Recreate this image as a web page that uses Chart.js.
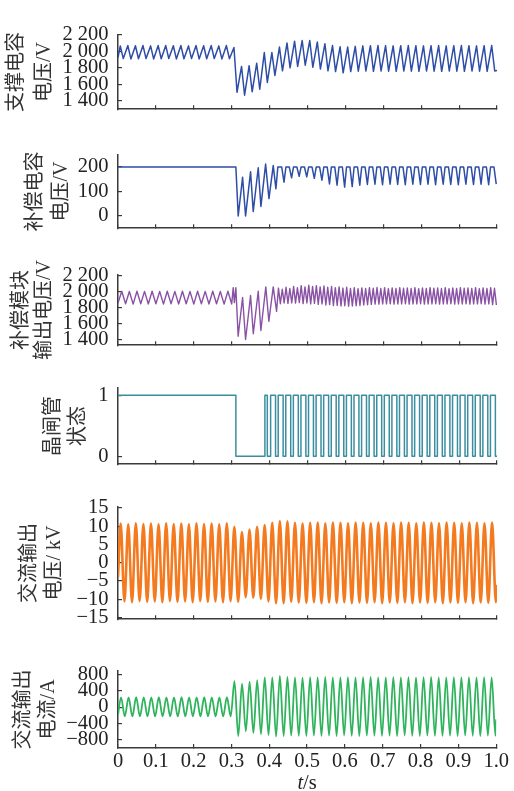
<!DOCTYPE html>
<html><head><meta charset="utf-8">
<script src="https://cdn.jsdelivr.net/npm/chart.js@4/dist/chart.umd.min.js"></script>
<style>
html,body{margin:0;padding:0;background:#fff;}
body{width:514px;height:791px;position:relative;overflow:hidden;}
canvas{position:absolute;left:0;}
</style></head>
<body>
<script>
// ---------- data ----------
const cycleT = [0,0.02,0.04,0.06,0.08,0.10,0.12,0.14,0.16,0.18,0.20,0.22,0.24,0.26,0.28,0.30,0.32,0.34,0.36,0.38,0.40,0.42,0.44,0.46,0.48,0.50,0.52,0.54,0.56,0.58,0.60,0.62,0.64,0.66,0.68,0.70,0.72,0.74,0.76,0.78,0.80,0.82,0.84,0.86,0.88,0.90,0.92,0.94,0.96,0.98];
const xTicks = [0,0.1,0.2,0.3,0.4,0.5,0.6,0.7,0.8,0.9,1.0];

// panel 1: support capacitor voltage (V)
const supTicks = [1400,1600,1800,2000,2200];
const supStart = 1925, supEnd = 1770;
const supPeaks = [2065,2070,2068,2070,2066,2070,2070,2068,2070,2066,2070,2068,2070,2066,2070,
  2046,1817,1826,1856,1985,1985,2052,2101,2122,2131,2131,2113,2092,2070,2055,
  2052,2060,2066,2068,2070,2068,2066,2068,2070,2068,2066,2068,2070,2066,2068,2070,2068,2066,2068,2070];
const supTroughs = [1912,1908,1910,1912,1908,1910,1912,1908,1910,1912,1908,1910,1912,1908,1910,
  1505,1470,1511,1541,1624,1709,1764,1801,1817,1832,1807,1786,1764,1755,1740,1755,
  1760,1762,1758,1762,1760,1758,1762,1760,1758,1762,1760,1758,1762,1760,1758,1762,1760,1758,1762];

// panel 2: compensation capacitor voltage (V)
const compTicks = [0,100,200];
const compEarlyT = [0,0.311,0.3172,0.3287,0.3366,0.3498,0.3568,0.3700,0.3771,0.3895,0.3983,0.4096,0.4167];
const compEarlyV = [200,200,0,158,0,181,18,197,39,212,71,206,111];
const compTop = 200;
const compTroughs = [138,156,162,160,154,146,131,126,118,120,126,129,130,128,130,129,128,130,129,130,128,130,129,128,130,129,130,128,130];

// panel 3: compensation module output voltage (V)
const modTicks = [1400,1600,1800,2000,2200];
const modStart = 1860;
const modPrePeaks = [2005,2003,2006,2004,2005,2003,2006,2004,2005,2003,2006,2004,2005,2003,2006];
const modPreTroughs = [1850,1846,1850,1848,1850,1846,1850,1848,1850,1846,1850,1848,1850,1846,1848];
const modEarlyT = [0.304,0.307,0.311,0.317,0.3287,0.3366,0.3498,0.357,0.370,0.377,0.390,0.398,0.4096,0.4184];
const modEarlyV = [2050,1865,2050,1447,1927,1406,1952,1478,2005,1518,2060,1632,2060,1756];
const modHiA = [2045,2055,2065,2075,2080,2075,2070,2065,2060,2055,2050,2048,2050,2052,2050,2048,2050,2046,2050,2048,2050,2046,2050,2048,2050,2046,2050,2048,2050];
const modLoA = [1850,1855,1858,1852,1848,1842,1835,1828,1822,1820,1825,1835,1842,1845,1848,1846,1848,1845,1848,1846,1848,1845,1848,1846,1848,1845,1848,1846,1840];
const modHiB = [2030,2040,2050,2060,2065,2060,2055,2050,2045,2040,2038,2040,2042,2040,2038,2040,2042,2040,2038,2040,2042,2040,2038,2040,2042,2040,2038,2040,2042];
const modLoB = [1860,1862,1865,1860,1855,1848,1840,1830,1825,1822,1828,1838,1845,1848,1850,1848,1850,1848,1850,1848,1850,1848,1850,1848,1850,1848,1850,1848,1835];

// panel 4: thyristor state
const thyTicks = [0,1];
const thyEarlyT = [0,0.311,0.3876,0.394];
const thyEarlyV = [1,0,1,0];
const thyOn = 1, thyOff = 0;

// panel 5: AC output voltage (kV)
const vTicks = [-15,-10,-5,0,5,10,15];
const vStart = -4, vEnd = -6;
const vPeaks = [10.7,10.5,10.8,10.6,10.7,10.5,10.8,10.6,10.7,10.5,10.8,10.6,10.7,10.5,10.8,
  9.8,8.4,9.1,9.8,10.3,10.9,11.4,11.3,10.9,10.7,
  10.9,11.0,10.8,11.0,10.9,10.8,11.0,10.9,10.8,11.0,10.9,10.8,11.0,10.9,10.8,11.0,10.9,10.8,11.0,10.9,10.8,11.0,10.9,10.8,11.0];
const vTroughs = [-10.6,-10.8,-10.5,-10.7,-10.6,-10.8,-10.5,-10.7,-10.6,-10.8,-10.5,-10.7,-10.6,-10.8,-10.5,
  -10.7,-9.4,-9.6,-9.9,-10.6,-11.1,-11.1,-10.7,-10.9,-11.0,
  -10.8,-11.1,-10.9,-11.0,-10.8,-11.1,-10.9,-11.0,-10.8,-11.1,-10.9,-11.0,-10.8,-11.1,-10.9,-11.0,-10.8,-11.1,-10.9,-11.0,-10.8,-11.1,-10.9,-11.0,-10.8];

// panel 6: AC output current (A)
const iTicks = [-800,-400,0,400,800];
const iStart = -190, iEnd = -300;
const iPeaks = [240,238,242,240,238,242,240,238,242,240,238,242,240,238,242,
  638,574,623,660,730,730,766,745,730,725,
  735,730,740,732,728,738,730,735,740,730,728,736,732,738,730,734,740,728,732,736,730,738,732,735,730];
const iTroughs = [-228,-230,-226,-228,-230,-226,-228,-230,-226,-228,-230,-226,-228,-230,-226,
  -711,-596,-638,-668,-690,-723,-711,-700,-705,-710,
  -700,-708,-702,-712,-698,-706,-710,-700,-704,-708,-702,-712,-698,-706,-710,-700,-704,-708,-702,-712,-698,-706,-710,-700,-704];

const xTitle = ['t', '/s'];

// ---------- build point lists ----------
function supData(){
  const d=[{x:0,y:supStart}];
  cycleT.forEach((t,k)=>{ d.push({x:t+0.006,y:supPeaks[k]}); d.push({x:t+0.014,y:supTroughs[k]}); });
  d.push({x:1,y:supEnd}); return d;
}
function compData(){
  const d=compEarlyT.map((t,i)=>({x:t,y:compEarlyV[i]}));
  let prev=compEarlyT[compEarlyT.length-1];
  for(let k=21;k<cycleT.length;k++){
    const T=cycleT[k]+0.018;
    d.push({x:prev+0.005,y:compTop}); d.push({x:T-0.006,y:compTop}); d.push({x:T,y:compTroughs[k-21]});
    prev=T;
  }
  return d;
}
function modData(){
  const d=[{x:0,y:modStart}];
  for(let k=0;k<15;k++){ d.push({x:cycleT[k]+0.010,y:modPrePeaks[k]}); d.push({x:cycleT[k]+0.020,y:modPreTroughs[k]}); }
  modEarlyT.forEach((t,i)=>d.push({x:t,y:modEarlyV[i]}));
  for(let k=21;k<cycleT.length;k++){
    const j=k-21, t=cycleT[k];
    d.push({x:t+0.0034,y:modHiA[j]}); d.push({x:t+0.0084,y:modLoA[j]});
    d.push({x:t+0.0134,y:modHiB[j]}); d.push({x:t+0.0184,y:modLoB[j]});
  }
  return d;
}
function thyData(){
  const d=thyEarlyT.map((t,i)=>({x:t,y:thyEarlyV[i]}));
  for(let k=20;k<cycleT.length;k++){ d.push({x:cycleT[k]+0.0027,y:thyOn}); d.push({x:cycleT[k]+0.0157,y:thyOff}); }
  d.push({x:1,y:thyOff}); return d;
}
function acData(start,peaks,troughs,end,pp,tp){
  const d=[{x:0,y:start}];
  cycleT.forEach((t,k)=>{ d.push({x:t+pp,y:peaks[k]}); d.push({x:t+tp,y:troughs[k]}); });
  d.push({x:1,y:end}); return d;
}

// ---------- styling ----------
const TXT='#222', AX='#3a3a3a';
const tickFont={family:'"Liberation Serif","Times New Roman",serif',size:20.5};
const titleFamily='"Liberation Serif","Noto Sans CJK SC",serif';
function fmt(v){
  const a=Math.abs(v); let s=String(a);
  if(a>=1000) s=s.replace(/(\d)(\d{3})$/,'$1 $2');
  return (v<0?'\u2212':'')+s;
}

const panels=[
 {top:23,bottom:121,min:1300,max:2200,ticks:supTicks,title:['支撑电容','电压/V'],lh:28,tp:3,data:supData(),color:'#2E4DA7',bw:1.5},
 {top:143,bottom:240,min:-50,max:250,ticks:compTicks,title:['补偿电容','电压/V'],lh:26,tp:23,data:compData(),color:'#2E4DA7',bw:1.5},
 {top:263,bottom:357,min:1335,max:2210,ticks:modTicks,title:['补偿模块','输出电压/V'],lh:23,tp:10.5,data:modData(),color:'#8A52A5',bw:1.4},
 {top:376,bottom:476,min:-0.13,max:1.12,ticks:thyTicks,title:['晶闸管','状态'],lh:25,tp:40.8,data:thyData(),color:'#3B8EA0',bw:1.5,stepped:true},
 {top:495,bottom:631,min:-15.45,max:15.3,ticks:vTicks,title:['交流输出','电压/ kV'],lh:25,tp:17.5,data:acData(vStart,vPeaks,vTroughs,vEnd,0.007,0.017),color:'#F47A20',bw:2.6,smooth:true},
 {top:659,bottom:748,min:-1005,max:892,ticks:iTicks,title:['交流输出','电流/A'],lh:25,tp:10.8,data:acData(iStart,iPeaks,iTroughs,iEnd,0.008,0.018),color:'#2FB35C',bw:1.8,smooth:true,last:true}
];

const xTitlePlugin={id:'xTitle',afterDraw(chart){
  const ctx=chart.ctx,a=chart.chartArea;
  ctx.save(); ctx.fillStyle=TXT; ctx.textBaseline='alphabetic';
  const f1='italic 20.5px "Liberation Serif"', f2='20.5px "Liberation Serif"';
  ctx.font=f1; const w1=ctx.measureText(xTitle[0]).width;
  ctx.font=f2; const w2=ctx.measureText(xTitle[1]).width;
  let x=(a.left+a.right)/2-(w1+w2)/2; const y=a.bottom+41;
  ctx.font=f1; ctx.fillText(xTitle[0],x,y);
  ctx.font=f2; ctx.fillText(xTitle[1],x+w1,y);
  ctx.restore();
}};

panels.forEach(p=>{
  const bottomPad=p.last?0:14, xH=p.last?43:0;
  const c=document.createElement('canvas');
  c.width=514; c.height=p.bottom-p.top+14+bottomPad+xH;
  c.style.top=(p.top-14)+'px';
  document.body.appendChild(c);
  new Chart(c,{
    type:'line',
    data:{datasets:[{data:p.data,borderColor:p.color,borderWidth:p.bw,pointRadius:0,fill:false,
      stepped:!!p.stepped,tension:0,cubicInterpolationMode:p.smooth?'monotone':'default',borderJoinStyle:'round'}]},
    options:{
      responsive:false,animation:false,devicePixelRatio:1,events:[],
      layout:{padding:{top:14,bottom:bottomPad,left:0,right:17}},
      plugins:{legend:{display:false},tooltip:{enabled:false}},
      scales:{
        x:{type:'linear',min:0,max:1,position:'bottom',
          afterBuildTicks:s=>{s.ticks=xTicks.map(v=>({value:v}));},
          afterFit:s=>{s.height=xH;},
          ticks:{display:!!p.last,padding:5,font:tickFont,color:TXT,autoSkip:false,maxRotation:0,
            callback:v=>v===0?'0':Number(v).toFixed(1)},
          grid:{drawOnChartArea:false,drawTicks:true,tickLength:-4,color:AX,lineWidth:1.2},
          border:{display:true,color:AX,width:1.5}},
        y:{type:'linear',min:p.min,max:p.max,position:'left',
          afterBuildTicks:s=>{s.ticks=p.ticks.map(v=>({value:v}));},
          afterFit:s=>{s.width=118;},
          ticks:{padding:13.5,font:tickFont,color:TXT,autoSkip:false,callback:v=>fmt(v)},
          grid:{drawOnChartArea:false,drawTicks:true,tickLength:-4,color:AX,lineWidth:1.2},
          border:{display:true,color:AX,width:1.5},
          title:{display:true,text:p.title,color:'#333',
            font:{family:titleFamily,size:20,lineHeight:p.lh/20},padding:{top:p.tp,bottom:0}}}
      }
    },
    plugins:p.last?[xTitlePlugin]:[]
  });
});
</script>
</body></html>
